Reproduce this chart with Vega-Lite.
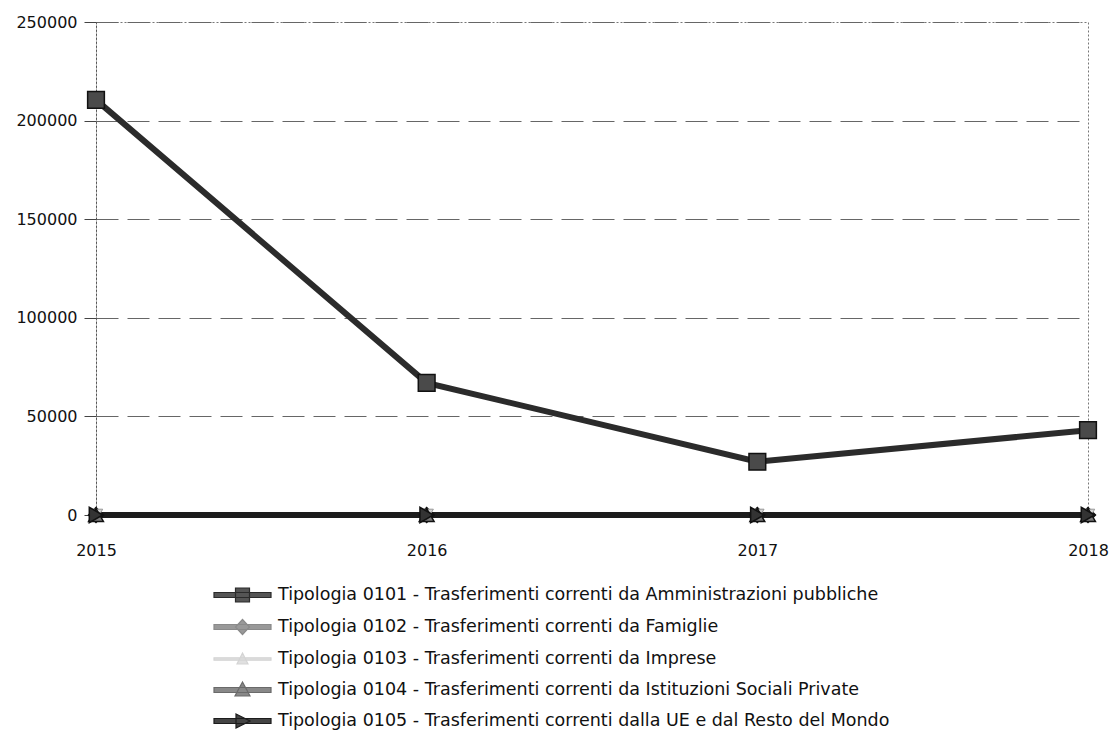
{
  "$schema": "https://vega.github.io/schema/vega-lite/v6.json",
  "width": 992,
  "height": 493,
  "autosize": "none",
  "padding": {"left": 96, "top": 22, "right": 23, "bottom": 228},
  "background": "white",
  "config": {
    "view": {"stroke": "#777", "strokeDash": [2, 2], "strokeWidth": 1},
    "axis": {"labelFont": "DejaVu Sans", "labelFontSize": 16, "labelColor": "#111", "titleFont": "DejaVu Sans"},
    "legend": {"labelFont": "DejaVu Sans", "labelFontSize": 17.5, "labelColor": "#111"}
  },
  "data": {
    "values": [
      {"anno": "2015", "serie": "Tipologia 0101 - Trasferimenti correnti da Amministrazioni pubbliche", "valore": 210500},
      {"anno": "2016", "serie": "Tipologia 0101 - Trasferimenti correnti da Amministrazioni pubbliche", "valore": 67000},
      {"anno": "2017", "serie": "Tipologia 0101 - Trasferimenti correnti da Amministrazioni pubbliche", "valore": 27000},
      {"anno": "2018", "serie": "Tipologia 0101 - Trasferimenti correnti da Amministrazioni pubbliche", "valore": 43000},
      {"anno": "2015", "serie": "Tipologia 0102 - Trasferimenti correnti da Famiglie", "valore": 0},
      {"anno": "2016", "serie": "Tipologia 0102 - Trasferimenti correnti da Famiglie", "valore": 0},
      {"anno": "2017", "serie": "Tipologia 0102 - Trasferimenti correnti da Famiglie", "valore": 0},
      {"anno": "2018", "serie": "Tipologia 0102 - Trasferimenti correnti da Famiglie", "valore": 0},
      {"anno": "2015", "serie": "Tipologia 0103 - Trasferimenti correnti da Imprese", "valore": 0},
      {"anno": "2016", "serie": "Tipologia 0103 - Trasferimenti correnti da Imprese", "valore": 0},
      {"anno": "2017", "serie": "Tipologia 0103 - Trasferimenti correnti da Imprese", "valore": 0},
      {"anno": "2018", "serie": "Tipologia 0103 - Trasferimenti correnti da Imprese", "valore": 0},
      {"anno": "2015", "serie": "Tipologia 0104 - Trasferimenti correnti da Istituzioni Sociali Private", "valore": 0},
      {"anno": "2016", "serie": "Tipologia 0104 - Trasferimenti correnti da Istituzioni Sociali Private", "valore": 0},
      {"anno": "2017", "serie": "Tipologia 0104 - Trasferimenti correnti da Istituzioni Sociali Private", "valore": 0},
      {"anno": "2018", "serie": "Tipologia 0104 - Trasferimenti correnti da Istituzioni Sociali Private", "valore": 0},
      {"anno": "2015", "serie": "Tipologia 0105 - Trasferimenti correnti dalla UE e dal Resto del Mondo", "valore": 0},
      {"anno": "2016", "serie": "Tipologia 0105 - Trasferimenti correnti dalla UE e dal Resto del Mondo", "valore": 0},
      {"anno": "2017", "serie": "Tipologia 0105 - Trasferimenti correnti dalla UE e dal Resto del Mondo", "valore": 0},
      {"anno": "2018", "serie": "Tipologia 0105 - Trasferimenti correnti dalla UE e dal Resto del Mondo", "valore": 0}
    ]
  },
  "encoding": {
    "x": {
      "field": "anno", "type": "ordinal", "title": null,
      "scale": {"type": "point", "padding": 0},
      "axis": {"labelAngle": 0, "domain": false, "ticks": false, "labelPadding": 27, "grid": false}
    },
    "y": {
      "field": "valore", "type": "quantitative", "title": null,
      "scale": {"domain": [0, 250000], "nice": false},
      "axis": {
        "values": [0, 50000, 100000, 150000, 200000, 250000], "format": "d",
        "domain": true, "domainColor": "#555", "domainDash": [2, 2], "domainWidth": 1,
        "ticks": true, "tickSize": 12, "tickColor": "#444", "tickWidth": 1,
        "labelPadding": 7,
        "grid": true, "gridColor": "#666", "gridDash": [22, 9], "gridWidth": 1
      }
    }
  },
  "layer": [
    {
      "mark": {"type": "line", "strokeWidth": 6, "strokeCap": "butt"},
      "encoding": {
        "color": {
          "field": "serie", "type": "nominal", "title": null,
          "scale": {
            "domain": [
              "Tipologia 0101 - Trasferimenti correnti da Amministrazioni pubbliche",
              "Tipologia 0102 - Trasferimenti correnti da Famiglie",
              "Tipologia 0103 - Trasferimenti correnti da Imprese",
              "Tipologia 0104 - Trasferimenti correnti da Istituzioni Sociali Private",
              "Tipologia 0105 - Trasferimenti correnti dalla UE e dal Resto del Mondo"
            ],
            "range": ["#2b2b2b", "#8a8a8a", "#d4d4d4", "#6a6a6a", "#1c1c1c"]
          },
          "legend": {
            "orient": "none", "legendX": 117, "legendY": 562, "direction": "vertical",
            "symbolSize": 400, "labelOffset": 43, "rowPadding": 11, "labelLimit": 900,
            "encode": {
              "symbols": {
                "update": {
                  "shape": {"signal": "indexof(datum.value, '0101') >= 0 ? 'M-1,-0.25H4.7V0.25H-1Z M1.15,-0.7H2.55V0.7H1.15Z' : indexof(datum.value, '0102') >= 0 ? 'M-1,-0.25H4.7V0.25H-1Z M1.85,-0.75L2.55,0L1.85,0.75L1.15,0Z' : indexof(datum.value, '0103') >= 0 ? 'M-1,-0.12H4.7V0.12H-1Z M1.85,-0.6L2.4,0.5L1.3,0.5Z' : indexof(datum.value, '0104') >= 0 ? 'M-1,-0.25H4.7V0.25H-1Z M1.85,-0.8L2.6,0.6L1.1,0.6Z' : 'M-1,-0.25H4.7V0.25H-1Z M1.2,-0.7L2.6,0L1.2,0.7Z'"},
                  "fill": {"signal": "indexof(datum.value, '0101') >= 0 ? '#555' : indexof(datum.value, '0102') >= 0 ? '#999' : indexof(datum.value, '0103') >= 0 ? '#e0e0e0' : indexof(datum.value, '0104') >= 0 ? '#888' : '#444'"},
                  "stroke": {"signal": "indexof(datum.value, '0103') >= 0 ? '#bbb' : '#111'"},
                  "strokeWidth": {"value": 1.2},
                  "opacity": {"value": 1}
                }
              }
            }
          }
        }
      }
    },
    {
      "transform": [{"filter": "indexof(datum.serie, '0101') >= 0"}],
      "mark": {"type": "point", "shape": "square", "filled": true, "opacity": 1, "fill": "#4a4a4a", "stroke": "#111", "strokeWidth": 1.5, "size": 280}
    },
    {
      "transform": [{"filter": "indexof(datum.serie, '0102') >= 0"}],
      "mark": {"type": "point", "shape": "diamond", "filled": true, "opacity": 1, "fill": "#8a8a8a", "stroke": "#111", "strokeWidth": 1.5, "size": 220}
    },
    {
      "transform": [{"filter": "indexof(datum.serie, '0103') >= 0"}],
      "mark": {"type": "point", "shape": "triangle-down", "filled": true, "opacity": 1, "fill": "#d4d4d4", "stroke": "#999", "strokeWidth": 1, "size": 180}
    },
    {
      "transform": [{"filter": "indexof(datum.serie, '0104') >= 0"}],
      "mark": {"type": "point", "shape": "triangle-up", "filled": true, "opacity": 1, "fill": "#7a7a7a", "stroke": "#111", "strokeWidth": 1.5, "size": 220}
    },
    {
      "transform": [{"filter": "indexof(datum.serie, '0105') >= 0"}],
      "mark": {"type": "point", "shape": "triangle-right", "filled": true, "opacity": 1, "fill": "#333", "stroke": "#111", "strokeWidth": 1.5, "size": 240}
    }
  ]
}
